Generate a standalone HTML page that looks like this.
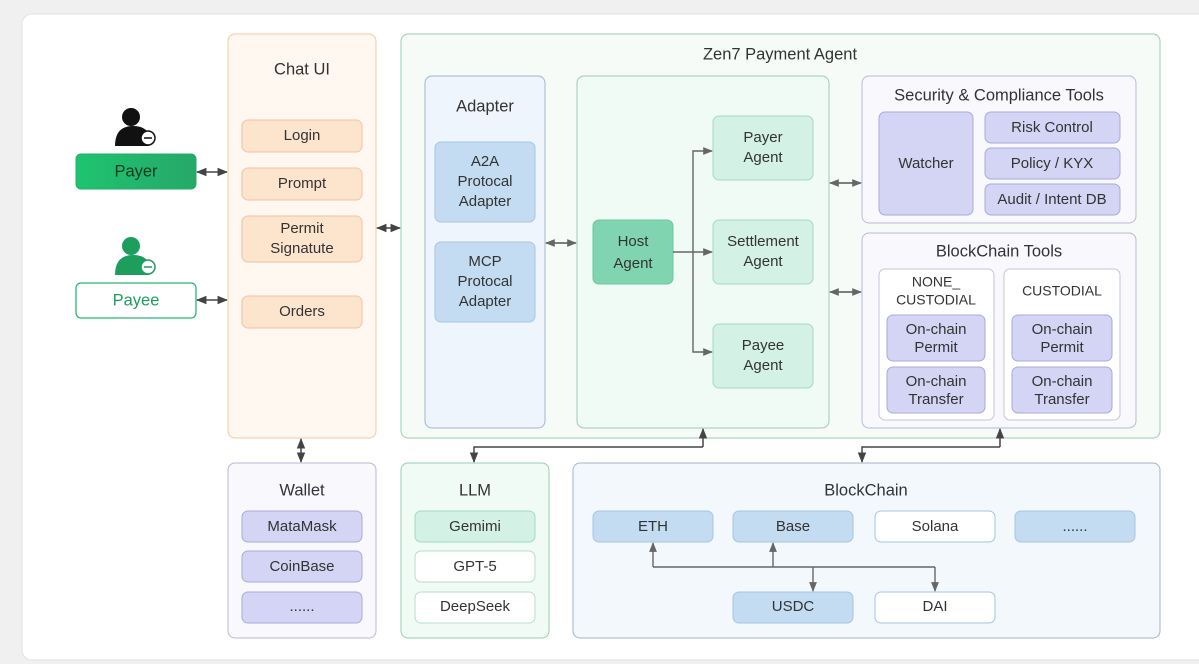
<!DOCTYPE html>
<html><head><meta charset="utf-8"><style>
html,body{margin:0;padding:0;background:#f0f0f0;}
svg{display:block;font-family:"Liberation Sans",sans-serif;}
text{fill:#333;font-size:15px;text-anchor:middle;dominant-baseline:middle;}
.t{font-size:16.5px;}
</style></head><body>
<svg width="1199" height="664" viewBox="0 0 1199 664">
<defs>
<marker id="a" viewBox="0 0 10 10" refX="9" refY="5" markerWidth="7" markerHeight="7" orient="auto-start-reverse"><path d="M0,1 L10,5 L0,9 z" fill="#444"/></marker>
<marker id="g" viewBox="0 0 10 10" refX="9" refY="5" markerWidth="7" markerHeight="7" orient="auto-start-reverse"><path d="M0,1 L10,5 L0,9 z" fill="#666"/></marker>
<linearGradient id="pg" x1="0" x2="1"><stop offset="0" stop-color="#1ec46f"/><stop offset="1" stop-color="#27a868"/></linearGradient>
</defs>
<rect x="22" y="14" width="1190" height="646" rx="10" fill="#fff" stroke="#e2e2e2"/>

<!-- Payer / Payee -->
<circle cx="131" cy="117" r="9" fill="#111"/>
<path d="M115,146 q0,-20 18,-20 q12,0 16,8 l0,12 z" fill="#111"/>
<circle cx="148" cy="138" r="7" fill="#fff" stroke="#111" stroke-width="1.5"/><path d="M144,138 h8" stroke="#111" stroke-width="1.5"/>
<rect x="76" y="154" width="120" height="35" rx="5" fill="url(#pg)" stroke="#1bb066"/>
<text x="136" y="172" class="t" style="fill:#0d3b22">Payer</text>
<circle cx="131" cy="246" r="9" fill="#1d9e5c"/>
<path d="M115,275 q0,-20 18,-20 q12,0 16,8 l0,12 z" fill="#1d9e5c"/>
<circle cx="148" cy="267" r="7" fill="#fff" stroke="#1d9e5c" stroke-width="1.5"/><path d="M144,267 h8" stroke="#1d9e5c" stroke-width="1.5"/>
<rect x="76" y="283" width="120" height="35" rx="5" fill="#fff" stroke="#2bb673" stroke-width="1.3"/>
<text x="136" y="301" class="t" style="fill:#1d9e5c">Payee</text>
<line x1="197" y1="172" x2="227" y2="172" stroke="#444" stroke-width="1.5" marker-start="url(#a)" marker-end="url(#a)"/>
<line x1="197" y1="300" x2="227" y2="300" stroke="#444" stroke-width="1.5" marker-start="url(#a)" marker-end="url(#a)"/>

<!-- Chat UI -->
<rect x="228" y="34" width="148" height="404" rx="7" fill="#fff8f0" stroke="#f3c9a2"/>
<text x="302" y="70" class="t">Chat UI</text>
<g fill="#fde4cd" stroke="#f2c4a0">
<rect x="242" y="120" width="120" height="32" rx="6"/><rect x="242" y="168" width="120" height="32" rx="6"/>
<rect x="242" y="216" width="120" height="46" rx="6"/><rect x="242" y="296" width="120" height="32" rx="6"/></g>
<text x="302" y="136">Login</text><text x="302" y="184">Prompt</text>
<text x="302" y="229">Permit</text><text x="302" y="249">Signatute</text><text x="302" y="312">Orders</text>
<line x1="377" y1="228" x2="400" y2="228" stroke="#444" stroke-width="1.5" marker-start="url(#a)" marker-end="url(#a)"/>
<line x1="301" y1="439" x2="301" y2="462" stroke="#444" stroke-width="1.5" marker-start="url(#a)" marker-end="url(#a)"/>

<!-- Zen7 -->
<rect x="401" y="34" width="759" height="404" rx="7" fill="#f6fbf8" stroke="#9ccbb3"/>
<text x="780" y="55" class="t">Zen7 Payment Agent</text>
<rect x="425" y="76" width="120" height="352" rx="7" fill="#eef5fc" stroke="#9fb6cc"/>
<text x="485" y="107" class="t">Adapter</text>
<rect x="435" y="142" width="100" height="80" rx="6" fill="#c4dcf2" stroke="#a6c4e2"/>
<rect x="435" y="242" width="100" height="80" rx="6" fill="#c4dcf2" stroke="#a6c4e2"/>
<text x="485" y="162">A2A</text><text x="485" y="182">Protocal</text><text x="485" y="202">Adapter</text>
<text x="485" y="262">MCP</text><text x="485" y="282">Protocal</text><text x="485" y="302">Adapter</text>
<line x1="546" y1="243" x2="576" y2="243" stroke="#555" stroke-width="1.4" marker-start="url(#g)" marker-end="url(#g)"/>

<rect x="577" y="76" width="252" height="352" rx="7" fill="#f0fbf6" stroke="#9ccbb3"/>
<rect x="593" y="220" width="80" height="64" rx="6" fill="#80d5b0" stroke="#6cc79f"/>
<text x="633" y="242">Host</text><text x="633" y="264">Agent</text>
<g fill="#d3f1e4" stroke="#a3d9c1">
<rect x="713" y="116" width="100" height="64" rx="6"/><rect x="713" y="220" width="100" height="64" rx="6"/><rect x="713" y="324" width="100" height="64" rx="6"/></g>
<text x="763" y="138">Payer</text><text x="763" y="158">Agent</text>
<text x="763" y="242">Settlement</text><text x="763" y="262">Agent</text>
<text x="763" y="346">Payee</text><text x="763" y="366">Agent</text>
<g stroke="#666" stroke-width="1.4" fill="none">
<path d="M673,252 H712" marker-end="url(#g)"/>
<path d="M693,252 V151 H712" marker-end="url(#g)"/>
<path d="M693,252 V352 H712" marker-end="url(#g)"/></g>
<line x1="830" y1="183" x2="861" y2="183" stroke="#555" stroke-width="1.4" marker-start="url(#g)" marker-end="url(#g)"/>
<line x1="830" y1="292" x2="861" y2="292" stroke="#555" stroke-width="1.4" marker-start="url(#g)" marker-end="url(#g)"/>

<rect x="862" y="76" width="274" height="147" rx="7" fill="#f8f8fd" stroke="#b9b9d8"/>
<text x="999" y="96" class="t">Security &amp; Compliance Tools</text>
<g fill="#d4d4f5" stroke="#aaaadd">
<rect x="879" y="112" width="94" height="103" rx="6"/>
<rect x="985" y="112" width="135" height="31" rx="6"/><rect x="985" y="148" width="135" height="31" rx="6"/><rect x="985" y="184" width="135" height="31" rx="6"/></g>
<text x="926" y="164">Watcher</text><text x="1052" y="128">Risk Control</text><text x="1052" y="164">Policy / KYX</text><text x="1052" y="200">Audit / Intent DB</text>

<rect x="862" y="233" width="274" height="195" rx="7" fill="#f8f8fd" stroke="#b9b9d8"/>
<text x="999" y="252" class="t">BlockChain Tools</text>
<rect x="879" y="269" width="115" height="151" rx="6" fill="#fff" stroke="#c5c5dc"/>
<rect x="1004" y="269" width="116" height="151" rx="6" fill="#fff" stroke="#c5c5dc"/>
<text x="936" y="283" style="font-size:14px">NONE_</text><text x="936" y="301" style="font-size:14px">CUSTODIAL</text>
<text x="1062" y="292" style="font-size:14px">CUSTODIAL</text>
<g fill="#d4d4f5" stroke="#aaaadd">
<rect x="887" y="315" width="98" height="46" rx="6"/><rect x="887" y="367" width="98" height="46" rx="6"/>
<rect x="1012" y="315" width="100" height="46" rx="6"/><rect x="1012" y="367" width="100" height="46" rx="6"/></g>
<text x="936" y="330">On-chain</text><text x="936" y="348">Permit</text>
<text x="936" y="382">On-chain</text><text x="936" y="400">Transfer</text>
<text x="1062" y="330">On-chain</text><text x="1062" y="348">Permit</text>
<text x="1062" y="382">On-chain</text><text x="1062" y="400">Transfer</text>

<!-- connectors to bottom -->
<g stroke="#444" stroke-width="1.5" fill="none">
<path d="M703,447 V429" marker-end="url(#a)"/><path d="M703,447 H474 V462" marker-end="url(#a)"/>
<path d="M1000,447 V429" marker-end="url(#a)"/><path d="M1000,447 H862 V462" marker-end="url(#a)"/></g>

<!-- Wallet -->
<rect x="228" y="463" width="148" height="175" rx="7" fill="#f8f8fd" stroke="#b9b9d8"/>
<text x="302" y="491" class="t">Wallet</text>
<g fill="#d4d4f5" stroke="#aaaadd">
<rect x="242" y="511" width="120" height="31" rx="6"/><rect x="242" y="551" width="120" height="31" rx="6"/><rect x="242" y="592" width="120" height="31" rx="6"/></g>
<text x="302" y="527">MataMask</text><text x="302" y="567">CoinBase</text><text x="302" y="607">......</text>

<!-- LLM -->
<rect x="401" y="463" width="148" height="175" rx="7" fill="#f0fbf6" stroke="#9ccbb3"/>
<text x="475" y="491" class="t">LLM</text>
<rect x="415" y="511" width="120" height="31" rx="6" fill="#d3f1e4" stroke="#a3d9c1"/>
<rect x="415" y="551" width="120" height="31" rx="6" fill="#fff" stroke="#b8dcc8"/>
<rect x="415" y="592" width="120" height="31" rx="6" fill="#fff" stroke="#b8dcc8"/>
<text x="475" y="527">Gemimi</text><text x="475" y="567">GPT-5</text><text x="475" y="607">DeepSeek</text>

<!-- BlockChain -->
<rect x="573" y="463" width="587" height="175" rx="7" fill="#f3f8fd" stroke="#9fb6cc"/>
<text x="866" y="491" class="t">BlockChain</text>
<g stroke="#a6c4e2">
<rect x="593" y="511" width="120" height="31" rx="6" fill="#c4dcf2"/><rect x="733" y="511" width="120" height="31" rx="6" fill="#c4dcf2"/>
<rect x="875" y="511" width="120" height="31" rx="6" fill="#fff"/><rect x="1015" y="511" width="120" height="31" rx="6" fill="#c4dcf2"/>
<rect x="733" y="592" width="120" height="31" rx="6" fill="#c4dcf2"/><rect x="875" y="592" width="120" height="31" rx="6" fill="#fff"/></g>
<text x="653" y="527">ETH</text><text x="793" y="527">Base</text><text x="935" y="527">Solana</text><text x="1075" y="527">......</text>
<text x="793" y="607">USDC</text><text x="935" y="607">DAI</text>
<g stroke="#666" stroke-width="1.4" fill="none">
<path d="M653,567 V543" marker-end="url(#g)"/><path d="M773,567 V543" marker-end="url(#g)"/>
<path d="M653,567 H935"/><path d="M813,567 V591" marker-end="url(#g)"/><path d="M935,567 V591" marker-end="url(#g)"/></g>
</svg>
</body></html>
